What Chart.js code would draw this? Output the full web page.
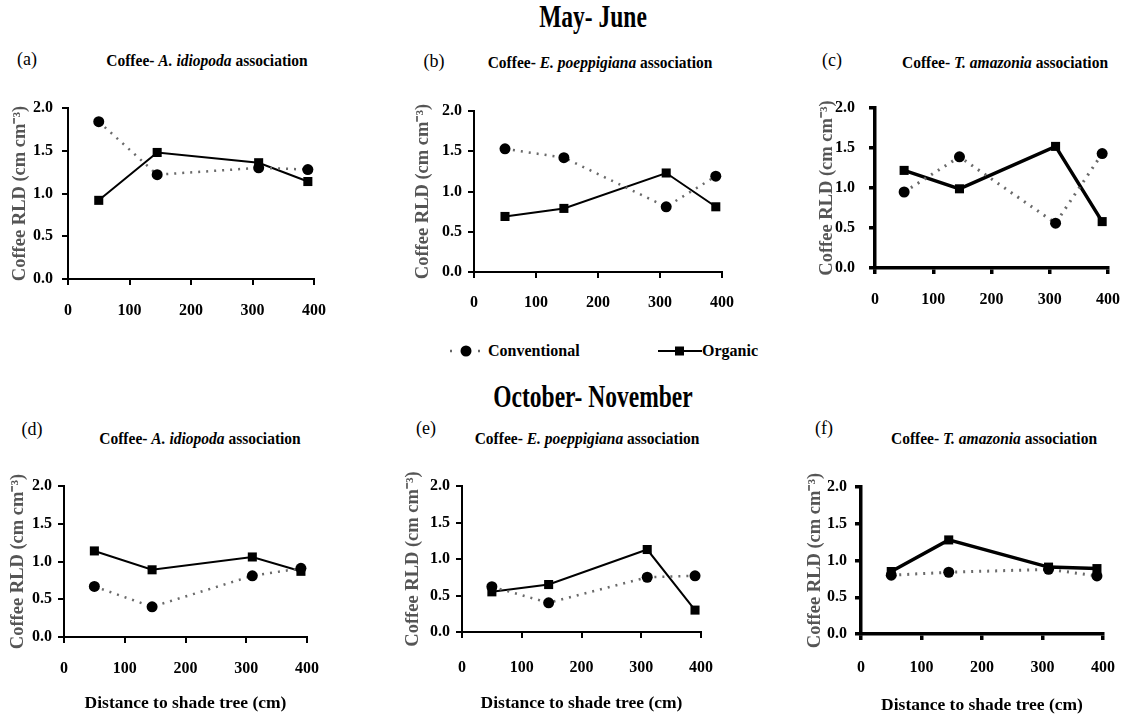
<!DOCTYPE html>
<html>
<head>
<meta charset="utf-8">
<title>Coffee RLD</title>
<script src="https://cdn.jsdelivr.net/npm/chart.js@4.4.1/dist/chart.umd.min.js"></script>
<style>
  body { margin: 0; background: #fff; width: 1131px; height: 717px; position: relative; overflow: hidden;
         font-family: "Liberation Serif", "Times New Roman", "DejaVu Serif", serif; color: #000; }
  .abs { position: absolute; white-space: nowrap; line-height: 1; }
  .season { font-weight: bold; font-size: 23.5px; transform: translateX(-50%) scaleY(1.3); }
  .ptitle { font-weight: bold; font-size: 15.5px; transform: translateX(-50%) scaleY(1.1); }
  .plabel { font-size: 18px; transform: translateX(-50%); }
  .legend { font-weight: bold; font-size: 16px; display: flex; align-items: center; }
  canvas { position: absolute; }
</style>
</head>
<body>

<div class="abs season" style="left:593px; top:6px;">May- June</div>
<div class="abs season" style="left:593px; top:386px;">October- November</div>

<div class="abs plabel" style="left:27px; top:50px;">(a)</div>
<div class="abs ptitle" style="left:207px; top:52px;">Coffee- <i>A. idiopoda</i> association</div>
<div class="abs plabel" style="left:434px; top:52px;">(b)</div>
<div class="abs ptitle" style="left:600px; top:54px;">Coffee- <i>E. poeppigiana</i> association</div>
<div class="abs plabel" style="left:832px; top:51px;">(c)</div>
<div class="abs ptitle" style="left:1005px; top:54px;">Coffee- <i>T. amazonia</i> association</div>

<div class="abs plabel" style="left:32px; top:420px;">(d)</div>
<div class="abs ptitle" style="left:200px; top:430px;">Coffee- <i>A. idiopoda</i> association</div>
<div class="abs plabel" style="left:426px; top:419px;">(e)</div>
<div class="abs ptitle" style="left:587px; top:430px;">Coffee- <i>E. poeppigiana</i> association</div>
<div class="abs plabel" style="left:824px; top:419px;">(f)</div>
<div class="abs ptitle" style="left:994px; top:430px;">Coffee- <i>T. amazonia</i> association</div>

<div class="abs legend" style="left:446px; top:343px;">
  <svg width="40" height="16"><line x1="4" y1="8" x2="38" y2="8" stroke="#666" stroke-width="2.5" stroke-dasharray="2,12"/><circle cx="20" cy="8" r="5.5" fill="#000"/></svg>
  <span style="margin-left:2px">Conventional</span>
</div>
<div class="abs legend" style="left:658px; top:343px;">
  <svg width="44" height="16"><line x1="0" y1="8" x2="44" y2="8" stroke="#000" stroke-width="2"/><rect x="17" y="3.5" width="9" height="9" fill="#000"/></svg>
  <span>Organic</span>
</div>

<script>
// distance to shade tree (cm)
const distances = [50, 145, 310, 390];

// May - June
const convA = [1.84, 1.22, 1.30, 1.28];
const orgA  = [0.92, 1.48, 1.36, 1.14];
const convB = [1.53, 1.42, 0.81, 1.19];
const orgB  = [0.69, 0.79, 1.23, 0.81];
const convC = [0.95, 1.39, 0.56, 1.43];
const orgC  = [1.22, 0.99, 1.52, 0.58];

// October - November
const convD = [0.67, 0.40, 0.81, 0.91];
const orgD  = [1.14, 0.89, 1.06, 0.87];
const convE = [0.62, 0.40, 0.75, 0.77];
const orgE  = [0.55, 0.65, 1.13, 0.30];
const convF = [0.80, 0.84, 0.88, 0.79];
const orgF  = [0.85, 1.28, 0.91, 0.89];

const xMin = 0, xMax = 400, xStep = 100;
const yMin = 0, yMax = 2, yStep = 0.5;
const yTitle = 'Coffee RLD (cm cm\u207B\u00B3)';
const xTitle = 'Distance to shade tree (cm)';

// plot area boxes [left, top, right, bottom] in page pixels, plus label gaps
const panels = [
  { conv: convA, org: orgA, box: [68, 108, 316, 279],  xPad: 16, yPad: 9,  yTitleX: 14, heavy: false, bottomRow: false },
  { conv: convB, org: orgB, box: [474, 111, 723, 272], xPad: 15, yPad: 6,  yTitleX: 11, heavy: false, bottomRow: false },
  { conv: convC, org: orgC, box: [875, 108, 1110, 268], xPad: 16, yPad: 14, yTitleX: 14, heavy: true,  bottomRow: false },
  { conv: convD, org: orgD, box: [64, 486, 309, 637],  xPad: 16, yPad: 6,  yTitleX: 16, heavy: false, bottomRow: true, xTitleGap: 66 },
  { conv: convE, org: orgE, box: [462, 486, 707, 632], xPad: 20, yPad: 6,  yTitleX: 13, heavy: false, bottomRow: true, xTitleGap: 71 },
  { conv: convF, org: orgF, box: [861, 487, 1107, 634], xPad: 18, yPad: 8,  yTitleX: 16, heavy: true,  bottomRow: true, xTitleGap: 71 }
];

const Y_W = 62, PAD_T = 24, PAD_R = 26, TICK_LEN = 6;
const serif = 'Liberation Serif';
const xTitleSize = 17.5, yTitleSize = 18.5;

function toPoints(values) {
  return distances.map((d, i) => ({ x: d, y: values[i] }));
}

panels.forEach(p => {
  const [L, T, R, B] = p.box;
  const bottomH = p.bottomRow ? 88 : 40;
  const canvas = document.createElement('canvas');
  canvas.width = (R - L) + Y_W + PAD_R;
  canvas.height = (B - T) + PAD_T + bottomH;
  canvas.style.left = (L - Y_W) + 'px';
  canvas.style.top = (T - PAD_T) + 'px';
  document.body.appendChild(canvas);

  const axisW = p.heavy ? 3.5 : 2;
  const xTitlePadBottom = p.bottomRow ? bottomH - xTitleSize * 0.6 - p.xTitleGap : 0;
  const yTitlePadTop = Math.max(0, p.yTitleX - yTitleSize * 0.6);

  new Chart(canvas.getContext('2d'), {
    type: 'line',
    data: {
      datasets: [{
        label: 'Conventional',
        data: toPoints(p.conv),
        borderColor: '#6a6a6a',
        borderWidth: p.heavy ? 3 : 2.5,
        borderDash: [2, 6],
        pointStyle: 'circle',
        pointRadius: 5.5,
        pointBackgroundColor: '#000',
        pointBorderColor: '#000',
        pointBorderWidth: 0,
        tension: 0
      }, {
        label: 'Organic',
        data: toPoints(p.org),
        borderColor: '#000',
        borderWidth: p.heavy ? 3.5 : 2,
        pointStyle: 'rect',
        pointRadius: 6.4,
        pointBackgroundColor: '#000',
        pointBorderColor: '#000',
        pointBorderWidth: 0,
        tension: 0
      }]
    },
    options: {
      responsive: false,
      animation: false,
      layout: { padding: { left: 0, top: PAD_T, right: PAD_R, bottom: 0 } },
      plugins: { legend: { display: false }, tooltip: { enabled: false } },
      scales: {
        x: {
          type: 'linear',
          min: xMin, max: xMax,
          afterFit: s => { s.height = bottomH; },
          border: { display: true, color: '#000', width: axisW },
          grid: { drawOnChartArea: false, drawTicks: true, tickLength: TICK_LEN, color: '#000', lineWidth: axisW },
          ticks: {
            stepSize: xStep,
            padding: p.xPad,
            color: '#000',
            maxRotation: 0,
            font: { family: serif, size: 16, weight: 'bold' }
          },
          title: {
            display: p.bottomRow,
            text: xTitle,
            color: '#000',
            padding: { top: 0, bottom: xTitlePadBottom },
            font: { family: serif, size: xTitleSize, weight: 'bold' }
          }
        },
        y: {
          min: yMin, max: yMax,
          afterFit: s => { s.width = Y_W; },
          border: { display: true, color: '#000', width: axisW },
          grid: { drawOnChartArea: false, drawTicks: true, tickLength: TICK_LEN, color: '#000', lineWidth: axisW },
          ticks: {
            stepSize: yStep,
            padding: p.yPad,
            color: '#000',
            font: { family: serif, size: 16, weight: 'bold' },
            callback: v => v.toFixed(1)
          },
          title: {
            display: true,
            text: yTitle,
            color: '#555',
            padding: { top: yTitlePadTop, bottom: 0 },
            font: { family: serif, size: yTitleSize, weight: 'bold' }
          }
        }
      }
    }
  });
});
</script>
</body>
</html>
